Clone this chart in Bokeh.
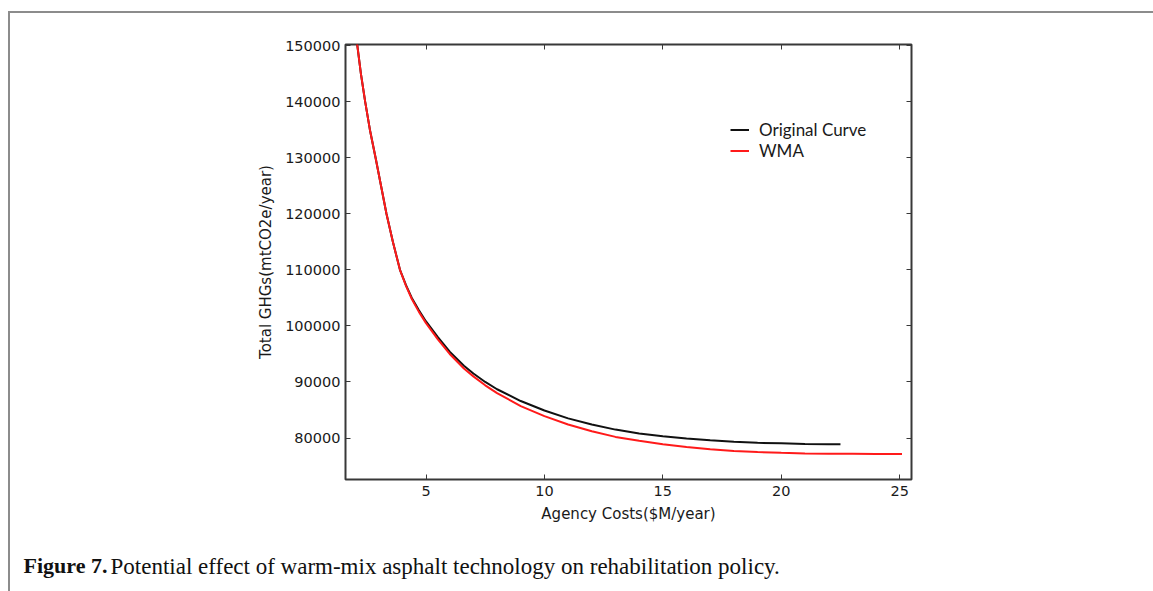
from bokeh.plotting import figure
from bokeh.models import (Range1d, LinearAxis, FixedTicker, NumeralTickFormatter,
                          Legend, LegendItem, Label)
from bokeh.embed import file_html
from bokeh.resources import INLINE

# ---- data ----
orig_x = [1.95, 2.1, 2.25, 2.43, 2.63, 2.87, 3.1, 3.33, 3.6, 3.9, 4.15, 4.4, 4.7, 5.0,
          5.5, 6.0, 6.6, 7.0, 7.5, 8.0, 9.0, 10, 11, 12, 13, 14, 15, 16, 17, 18, 19, 20,
          21, 22, 22.5]
orig_y = [154000, 150000, 145000, 140000, 135000, 130000, 125000, 120000, 115000, 110000,
          107300, 105000, 102800, 100800, 98000, 95400, 92900, 91500, 90000, 88700, 86600,
          84900, 83500, 82400, 81500, 80800, 80300, 79900, 79600, 79350, 79150, 79050,
          78950, 78900, 78900]
wma_x = [1.95, 2.1, 2.25, 2.43, 2.63, 2.87, 3.1, 3.33, 3.6, 3.9, 4.15, 4.4, 4.7, 5.0,
         5.5, 6.0, 6.6, 7.0, 7.5, 8.0, 9.0, 10, 11, 12, 13, 14, 15, 16, 17, 18, 19, 20,
         21, 22, 23, 24, 25.1]
wma_y = [154000, 150000, 145000, 140000, 135000, 130000, 125000, 120000, 115000, 110000,
         107200, 104800, 102500, 100500, 97600, 95000, 92400, 91000, 89400, 88000, 85700,
         83900, 82400, 81200, 80200, 79500, 78900, 78400, 78000, 77700, 77500, 77350,
         77250, 77200, 77180, 77150, 77150]
x_ticks = [5, 10, 15, 20, 25]
y_ticks = [80000, 90000, 100000, 110000, 120000, 130000, 140000, 150000]
series_names = ["Original Curve", "WMA"]
x_label = "Agency Costs($M/year)"
y_label = "Total GHGs(mtCO2e/year)"
caption_bold = "Figure 7."
caption_text = "Potential effect of warm-mix asphalt technology on rehabilitation policy."

# ---- figure ----
W, H = 1153, 591
FL, FR, FT, FB = 345, 911, 44, 479   # frame edges in page pixels
p = figure(width=W, height=H, output_backend="svg", toolbar_location=None,
           x_range=Range1d(1.6, 25.5), y_range=Range1d(72600, 150200),
           min_border_left=FL, min_border_right=W - FR, min_border_top=FT,
           min_border_bottom=H - FB, x_axis_location=None, y_axis_location=None)
p.background_fill_color = "white"
p.border_fill_color = "white"
p.grid.visible = False
p.outline_line_color = "#383838"
p.outline_line_width = 2
p.stylesheets = [
    ":host { position: relative; }",
    ":host::after { content: ''; position: absolute; left: 8px; top: 11px; right: 0px;"
    " bottom: 0px; border-left: 2px solid #8c8c8c; border-top: 2px solid #8c8c8c;"
    " pointer-events: none; z-index: 10; }",
]

tick_font = "DejaVu Sans"
def style_axis(ax, show_labels):
    ax.axis_line_color = None
    ax.major_tick_in = 5
    ax.major_tick_out = 0
    ax.minor_tick_line_color = None
    ax.major_tick_line_color = "#383838"
    ax.major_tick_line_width = 1
    ax.major_label_text_font = tick_font
    ax.major_label_text_font_size = "14.5px"
    ax.major_label_text_color = "#1a1a1a" if show_labels else None
    ax.axis_label_text_font = tick_font
    ax.axis_label_text_font_size = "15px"
    ax.axis_label_text_font_style = "normal"
    ax.axis_label_text_color = "#1a1a1a"

xb = LinearAxis(ticker=FixedTicker(ticks=x_ticks), axis_label=x_label)
style_axis(xb, True)
xb.major_label_standoff = 6
xb.axis_label_standoff = 6
p.add_layout(xb, "below")
yl = LinearAxis(ticker=FixedTicker(ticks=y_ticks), axis_label=y_label,
                formatter=NumeralTickFormatter(format="0"))
style_axis(yl, True)
yl.major_label_standoff = 5
yl.axis_label_standoff = 7
p.add_layout(yl, "left")
xt = LinearAxis(ticker=FixedTicker(ticks=x_ticks))
style_axis(xt, False)
p.add_layout(xt, "above")
yr = LinearAxis(ticker=FixedTicker(ticks=y_ticks))
style_axis(yr, False)
p.add_layout(yr, "right")

r1 = p.line(orig_x, orig_y, line_color="#111111", line_width=2)
r2 = p.line(wma_x, wma_y, line_color="#ff1a1a", line_width=2)

legend = Legend(items=[LegendItem(label=series_names[0], renderers=[r1]),
                       LegendItem(label=series_names[1], renderers=[r2])],
                location=(385, 318), border_line_color=None, background_fill_alpha=0,
                padding=0, margin=0, spacing=-3, glyph_width=19, glyph_height=17,
                label_height=17, label_standoff=10,
                label_text_font="Lato", label_text_font_size="17px",
                label_text_color="#1a1a1a")
p.add_layout(legend, "center")

cap1 = Label(x=23 - FL, y=-15, x_units="screen", y_units="screen",
             text=caption_bold, text_font="Liberation Serif", text_font_size="22px",
             text_font_style="bold", text_color="#111111", text_baseline="alphabetic")
cap2 = Label(x=110 - FL, y=9, x_units="screen", y_units="screen",
             text=caption_text, text_font="Liberation Serif", text_font_size="23px",
             text_color="#111111", text_baseline="alphabetic")
p.add_layout(cap1, "below")
p.add_layout(cap2, "below")

open("out.html", "w").write(file_html(p, INLINE))
